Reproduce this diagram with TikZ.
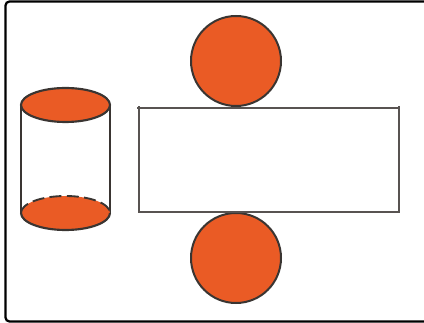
\documentclass[tikz,border=0pt]{standalone}
\definecolor{fillor}{HTML}{EA5B25}
\definecolor{ink}{HTML}{3A3532}
\tikzset{x=0.75pt,y=-0.75pt,
 solid shape/.style={draw=ink,fill=fillor,line width=1.6pt},
 wall/.style={draw=ink,line width=1.3pt},
 edge line/.style={draw=ink!85!white,line width=1.6pt},
 disc/.style={circle,draw=ink,fill=fillor,line width=1.5pt,minimum size=67.5pt,inner sep=0pt},
 frame/.style={draw=black,line width=1.7pt,rounded corners=3pt}}
\begin{document}
\begin{tikzpicture}
\useasboundingbox (0,0) rectangle (424,323);
\clip (0,0) rectangle (424,323);
\draw[frame] (5.5,1.5) rectangle (440,321.5);
\node[disc] (top) at (236,61) {};
\node[disc] (bot) at (236,258) {};
\draw[edge line] (137,107.6) -- (400,107.6) (398.8,106) -- (398.8,212) -- (137.5,212) (139,212) -- (139,106);
\coordinate (lt) at (21,105);
\coordinate (rt) at (110,105);
\coordinate (lb) at (21,213);
\coordinate (rb) at (110,213);
\draw[wall] (lt) -- (lb) (rt) -- (rb);
\draw[solid shape] (65.5,105) ellipse [x radius=44.5,y radius=17];
\fill[fillor] (65.5,213) ellipse [x radius=44.5,y radius=17];
\draw[ink,line width=1.6pt] (lb) arc[start angle=180,end angle=360,x radius=44.5,y radius=-17];
\draw[ink,line width=1.4pt,dash pattern=on 9pt off 4pt] (lb) arc[start angle=180,end angle=0,x radius=44.5,y radius=-17];
\end{tikzpicture}
\end{document}
